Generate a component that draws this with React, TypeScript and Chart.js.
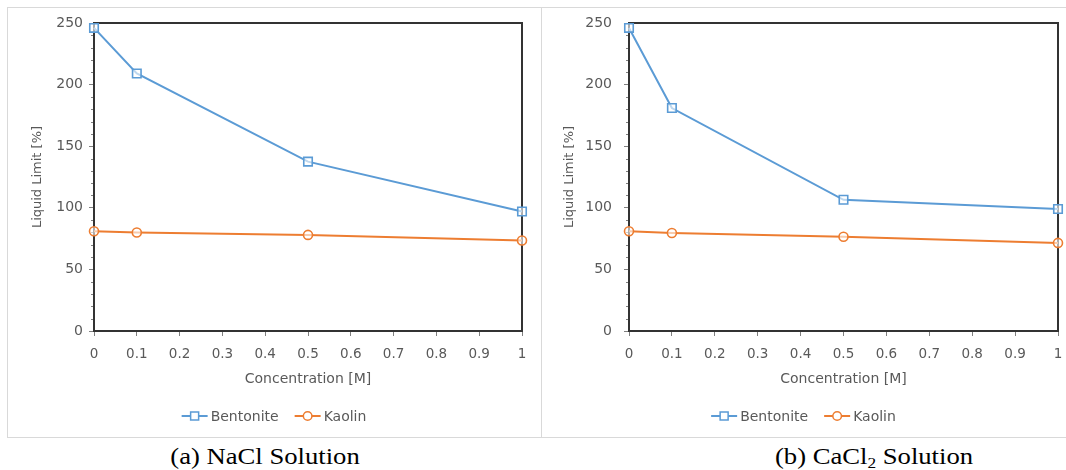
import React, { useEffect, useRef } from "react";
import { Chart, registerables } from "chart.js";

Chart.register(...registerables);

// ---------- data ----------
const concentrations = [0, 0.1, 0.5, 1];
const bentoniteNaCl = [246, 209, 137.5, 97];
const kaolinNaCl = [81, 80, 78, 73.5];
const bentoniteCaCl2 = [246, 181, 106.5, 99];
const kaolinCaCl2 = [81, 79.5, 76.5, 71.5];

const xTickValues = [0, 0.1, 0.2, 0.3, 0.4, 0.5, 0.6, 0.7, 0.8, 0.9, 1];
const xTickLabels = ["0", "0.1", "0.2", "0.3", "0.4", "0.5", "0.6", "0.7", "0.8", "0.9", "1"];
const yTickValues = [0, 50, 100, 150, 200, 250];
const yMinorTickValues = [10, 20, 30, 40, 60, 70, 80, 90, 110, 120, 130, 140, 160, 170, 180, 190, 210, 220, 230, 240];

const seriesLabels = ["Bentonite", "Kaolin"];
const xTitle = "Concentration [M]";
const yTitle = "Liquid Limit [%]";

const BLUE = "#5B9BD5";
const ORANGE = "#ED7D31";
const TEXT = "#595959";
const FONT = "'DejaVu Sans', sans-serif";

const framePlugin = {
  id: "frameMinor",
  beforeDatasetsDraw(chart: any) {
    const { ctx, chartArea } = chart;
    const y = chart.scales.y;
    ctx.save();
    ctx.strokeStyle = "#7f7f7f";
    ctx.lineWidth = 1;
    yMinorTickValues.forEach((v) => {
      const py = Math.round(y.getPixelForValue(v)) + 0.5;
      ctx.beginPath();
      ctx.moveTo(chartArea.left - 3, py);
      ctx.lineTo(chartArea.left, py);
      ctx.stroke();
    });
    ctx.strokeStyle = "#333333";
    ctx.lineWidth = 2;
    ctx.strokeRect(chartArea.left, chartArea.top, chartArea.right - chartArea.left, chartArea.bottom - chartArea.top);
    ctx.restore();
  },
};

const legendPlugin = {
  id: "customLegend",
  afterDraw(chart: any, _args: any, opts: any) {
    const { ctx } = chart;
    ctx.save();
    ctx.font = `14px ${FONT}`;
    const ds = chart.data.datasets;
    const sample = 26;
    const gap = 3;
    const itemGap = 16;
    const widths = ds.map((d: any) => ctx.measureText(d.label).width);
    const total = widths.reduce((s: number, w: number) => s + sample + gap + w, 0) + itemGap * (ds.length - 1);
    let x = chart.width / 2 - total / 2 + (opts.dx || 0);
    const y = opts.y;
    ds.forEach((d: any, i: number) => {
      ctx.strokeStyle = d.borderColor;
      ctx.lineWidth = 2;
      ctx.beginPath();
      ctx.moveTo(x, y);
      ctx.lineTo(x + sample, y);
      ctx.stroke();
      const cx = x + sample / 2;
      ctx.fillStyle = "#ffffff";
      ctx.lineWidth = 1.5;
      ctx.beginPath();
      if (d.pointStyle === "rect") {
        ctx.rect(cx - 4, y - 4, 8, 8);
      } else {
        ctx.arc(cx, y, 4.3, 0, Math.PI * 2);
      }
      ctx.fill();
      ctx.stroke();
      ctx.fillStyle = TEXT;
      ctx.textBaseline = "middle";
      ctx.textAlign = "left";
      ctx.fillText(d.label, x + sample + gap, y + 1);
      x += sample + gap + widths[i] + itemGap;
    });
    ctx.restore();
  },
};

type PanelProps = {
  width: number;
  height: number;
  bentonite: number[];
  kaolin: number[];
  padLeft: number;
  padRight: number;
  yWidth: number;
  yTickPad: number;
};

function Panel({ width, height, bentonite, kaolin, padLeft, padRight, yWidth, yTickPad }: PanelProps) {
  const ref = useRef<HTMLCanvasElement | null>(null);
  useEffect(() => {
    if (!ref.current) return;
    const xH = 61;
    const mk = (vals: number[]) => concentrations.map((c, i) => ({ x: c, y: vals[i] }));
    const chart = new Chart(ref.current, {
      type: "line",
      data: {
        datasets: [
          {
            label: seriesLabels[0],
            data: mk(bentonite),
            borderColor: BLUE,
            backgroundColor: "#ffffff",
            borderWidth: 2,
            pointStyle: "rect",
            pointRadius: 6,
            pointBorderWidth: 1.6,
            pointBackgroundColor: "rgba(255,255,255,0.6)",
            pointBorderColor: BLUE,
            clip: false,
          } as any,
          {
            label: seriesLabels[1],
            data: mk(kaolin),
            borderColor: ORANGE,
            backgroundColor: "#ffffff",
            borderWidth: 2,
            pointStyle: "circle",
            pointRadius: 4.5,
            pointBorderWidth: 1.6,
            pointBackgroundColor: "rgba(255,255,255,0.6)",
            pointBorderColor: ORANGE,
            clip: false,
          } as any,
        ],
      },
      options: {
        animation: false,
        responsive: false,
        devicePixelRatio: 1,
        layout: { padding: { left: padLeft, right: padRight, top: 16, bottom: height - 324 - xH } },
        plugins: {
          legend: { display: false },
          tooltip: { enabled: false },
          customLegend: { y: 409 },
        } as any,
        scales: {
          x: {
            type: "linear",
            min: 0,
            max: 1,
            afterBuildTicks: (s: any) => {
              s.ticks = xTickValues.map((v) => ({ value: v }));
            },
            afterFit: (s: any) => {
              s.height = xH;
              s.paddingLeft = 0;
              s.paddingRight = 0;
              s.paddingTop = 0;
              s.paddingBottom = 0;
            },
            ticks: {
              color: TEXT,
              font: { family: FONT, size: 13.5 },
              padding: 10,
              maxRotation: 0,
              autoSkip: false,
              callback: (_v: any, i: number) => xTickLabels[i],
            },
            grid: { drawOnChartArea: false, drawTicks: true, tickLength: 5, tickColor: "#7f7f7f", color: "#7f7f7f" },
            border: { display: false },
            title: {
              display: true,
              text: xTitle,
              color: TEXT,
              font: { family: FONT, size: 14 },
              padding: { top: 0, bottom: 4 },
            },
          },
          y: {
            type: "linear",
            min: 0,
            max: 250,
            afterBuildTicks: (s: any) => {
              s.ticks = yTickValues.map((v) => ({ value: v }));
            },
            afterFit: (s: any) => {
              s.width = yWidth;
              s.paddingLeft = 0;
              s.paddingRight = 0;
              s.paddingTop = 0;
              s.paddingBottom = 0;
            },
            ticks: {
              color: TEXT,
              font: { family: FONT, size: 14 },
              padding: yTickPad,
              callback: (v: any) => String(v),
            },
            grid: { drawOnChartArea: false, drawTicks: true, tickLength: 5, tickColor: "#7f7f7f", color: "#7f7f7f" },
            border: { display: false },
            title: {
              display: true,
              text: yTitle,
              color: TEXT,
              font: { family: FONT, size: 13 },
              padding: { top: 4, bottom: 0 },
            },
          },
        },
      },
      plugins: [framePlugin, legendPlugin],
    } as any);
    return () => chart.destroy();
  }, []);
  return <canvas ref={ref} width={width} height={height} style={{ width, height, display: "block" }} />;
}

const captionStyle: React.CSSProperties = {
  position: "absolute",
  top: 442,
  fontFamily: "'Liberation Serif', 'Times New Roman', serif",
  fontSize: 24,
  lineHeight: "28px",
  color: "#000",
  whiteSpace: "nowrap",
  transform: "translateX(-50%) scaleX(1.11)",
};

export default function App() {
  useEffect(() => {
    document.body.style.margin = "0";
  }, []);
  return (
    <div style={{ position: "fixed", left: 0, top: 0, width: 1066, height: 470, background: "#fff", overflow: "hidden" }}>
      <div style={{ position: "absolute", left: 7, top: 7 }}>
        <Panel width={534} height={430} bentonite={bentoniteNaCl} kaolin={kaolinNaCl} padLeft={19} padRight={19} yWidth={68} yTickPad={6} />
      </div>
      <div style={{ position: "absolute", left: 541, top: 7 }}>
        <Panel width={525} height={430} bentonite={bentoniteCaCl2} kaolin={kaolinCaCl2} padLeft={17} padRight={8} yWidth={71} yTickPad={12} />
      </div>
      <div style={{ position: "absolute", left: 7, top: 7, width: 535, height: 431, boxSizing: "border-box", border: "1px solid #d9d9d9", pointerEvents: "none" }} />
      <div style={{ position: "absolute", left: 541, top: 7, width: 540, height: 431, boxSizing: "border-box", borderTop: "1px solid #d9d9d9", borderBottom: "1px solid #d9d9d9", pointerEvents: "none" }} />
      <div style={{ ...captionStyle, left: 265 }}>(a) NaCl Solution</div>
      <div style={{ ...captionStyle, left: 874 }}>
        (b) CaCl<sub style={{ fontSize: "0.65em", verticalAlign: "-0.25em", lineHeight: 0 }}>2</sub> Solution
      </div>
    </div>
  );
}
